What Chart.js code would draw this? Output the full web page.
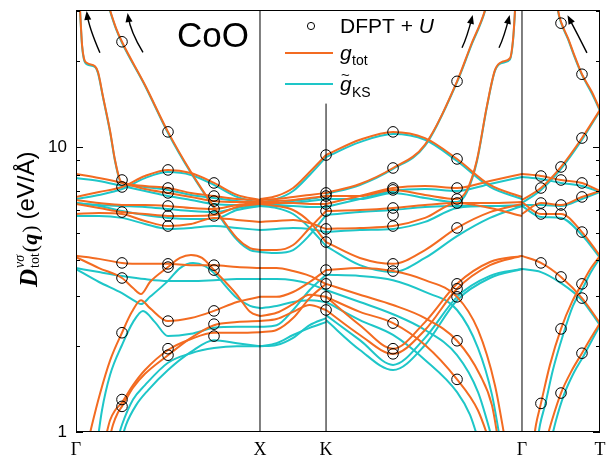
<!DOCTYPE html>
<html>
<head>
<meta charset="utf-8">
<script src="https://cdn.jsdelivr.net/npm/chart.js@4.4.1/dist/chart.umd.min.js"></script>
<style>
  html, body { margin: 0; padding: 0; background: #fff; }
  #wrap { width: 615px; height: 460px; position: relative; }
</style>
</head>
<body>
<div id="wrap"><canvas id="chart"></canvas></div>
<script>
// CoO: D_tot(q) along Γ–X–K–Γ–T, DFPT+U points vs. g_tot and g~_KS curves

const ORANGE = '#F36B21';
const CYAN = '#1EC6C8';

const tickQ = [0, 1, 1.359, 2.424, 2.848];
const tickNames = ['Γ', 'X', 'K', 'Γ', 'T'];
const yTicks = [1, 2, 3, 4, 5, 6, 7, 8, 9, 10, 20, 30];

// ---- Γ–X ----
const qGX = [0, 0.125, 0.25, 0.375, 0.5, 0.625, 0.75, 0.875, 1];
const gxTot = [
  [6.68, 6.95, 7.24, 7.91, 8.31, 8.10, 7.48, 6.79, 6.52],
  [8.04, 7.78, 7.48, 7.12, 6.90, 6.68, 6.46, 6.41, 6.41],
  [6.52, 6.36, 6.26, 6.26, 6.21, 6.11, 6.06, 6.26, 6.36],
  [6.31, 6.11, 5.91, 5.82, 5.73, 5.73, 5.77, 6.16, 6.31],
  [5.82, 5.87, 5.82, 5.50, 5.28, 5.37, 5.64, 5.55, 5.46],
  [4.15, 4.05, 3.92, 3.89, 3.89, 3.85, 3.85, 3.79, 3.76]
];
const gxKS = [
  [6.57, 6.79, 7.12, 7.78, 8.17, 7.98, 7.36, 6.68, 6.36],
  [7.78, 7.60, 7.30, 7.01, 6.73, 6.52, 6.31, 6.26, 6.26],
  [6.36, 6.26, 6.21, 6.16, 6.06, 5.96, 5.91, 6.11, 6.21],
  [6.36, 6.21, 5.96, 5.77, 5.64, 5.59, 5.59, 6.01, 6.21],
  [5.73, 5.73, 5.64, 5.37, 5.16, 5.20, 5.28, 5.20, 5.11],
  [3.76, 3.64, 3.53, 3.44, 3.39, 3.39, 3.41, 3.44, 3.44]
];
const gxTotCurves = [
  [[0.016, 35.6], [0.022, 30.2], [0.033, 22.8], [0.043, 20.5], [0.060, 19.7], [0.103, 19.2], [0.120, 18.3], [0.147, 15.0], [0.185, 11.4], [0.212, 9.00], [0.239, 7.66], [0.25, 7.54], [0.375, 7.30], [0.5, 7.18], [0.625, 6.90], [0.75, 6.73], [0.875, 6.57], [1, 6.52]],
  [[0.152, 35.6], [0.185, 30.2], [0.217, 26.2], [0.25, 23.4], [0.375, 16.5], [0.5, 11.3], [0.625, 8.17], [0.75, 6.16], [0.875, 4.79], [0.946, 4.42], [1, 4.35]],
  [[0, 4.11], [0.125, 3.76], [0.25, 3.47], [0.31, 3.20], [0.353, 3.05], [0.402, 3.36], [0.5, 3.79], [0.565, 4.08], [0.625, 4.18], [0.685, 4.08], [0.75, 3.70], [0.875, 3.03], [0.946, 2.64], [1, 2.55]],
  [[0.065, 0.92], [0.087, 1.06], [0.130, 1.36], [0.185, 1.78], [0.25, 2.23], [0.304, 2.64], [0.353, 2.90], [0.402, 2.72], [0.5, 2.45], [0.625, 2.51], [0.75, 2.66], [0.875, 2.86], [1, 2.98]],
  [[0.158, 0.94], [0.185, 1.10], [0.212, 1.19], [0.25, 1.27], [0.31, 1.46], [0.375, 1.65], [0.5, 1.94], [0.625, 2.12], [0.75, 2.23], [0.875, 2.23], [1, 2.24]],
  [[0.174, 0.90], [0.201, 1.06], [0.228, 1.17], [0.25, 1.23], [0.31, 1.43], [0.375, 1.60], [0.5, 1.86], [0.625, 2.14], [0.75, 2.37], [0.875, 2.43], [1, 2.45]]
];
const gxKSCurves = [
  [[0.016, 35.6], [0.022, 30.0], [0.033, 22.6], [0.043, 20.3], [0.060, 19.5], [0.103, 19.1], [0.120, 18.1], [0.147, 14.9], [0.185, 11.3], [0.212, 8.93], [0.239, 7.60], [0.25, 7.48], [0.375, 7.24], [0.5, 7.07], [0.625, 6.79], [0.75, 6.62], [0.875, 6.46], [1, 6.31]],
  [[0.152, 35.6], [0.185, 30.0], [0.217, 26.0], [0.25, 23.2], [0.375, 16.4], [0.5, 11.2], [0.625, 8.10], [0.75, 6.11], [0.875, 4.72], [0.946, 4.35], [1, 4.28]],
  [[0, 3.73], [0.125, 3.36], [0.25, 3.07], [0.321, 2.88], [0.353, 2.81], [0.402, 2.98], [0.5, 3.39], [0.565, 3.76], [0.636, 3.92], [0.701, 3.82], [0.75, 3.61], [0.875, 2.95], [0.946, 2.77], [1, 2.72]],
  [[0.114, 0.90], [0.141, 1.19], [0.185, 1.585], [0.25, 2.02], [0.31, 2.43], [0.364, 2.66], [0.429, 2.43], [0.5, 2.17], [0.625, 2.21], [0.75, 2.32], [0.875, 2.34], [1, 2.34]],
  [[0.217, 0.90], [0.25, 1.06], [0.31, 1.30], [0.375, 1.46], [0.5, 1.75], [0.625, 1.89], [0.75, 1.97], [0.875, 2.00], [1, 2.00]],
  [[0.239, 0.90], [0.272, 1.06], [0.326, 1.24], [0.391, 1.40], [0.5, 1.65], [0.625, 1.91], [0.75, 2.10], [0.875, 2.05], [1, 2.00]]
];

// ---- X–K ----
const qXK = [1, 1.09, 1.18, 1.27, 1.359];
const xkTot = [
  [6.57, 6.73, 7.18, 8.17, 9.37],
  [6.52, 6.57, 6.68, 6.79, 6.90],
  [6.41, 6.46, 6.52, 6.62, 6.73],
  [6.36, 6.36, 6.36, 6.31, 6.31],
  [4.35, 4.35, 4.53, 5.20, 5.96],
  [5.46, 5.50, 5.55, 5.41, 5.16],
  [6.31, 6.21, 6.01, 5.46, 4.64],
  [3.76, 3.76, 3.67, 3.53, 3.31],
  [2.98, 2.98, 3.10, 3.36, 3.70],
  [2.55, 2.62, 2.81, 3.03, 2.98],
  [2.45, 2.49, 2.64, 2.79, 2.68],
  [2.24, 2.28, 2.51, 2.95, 3.31]
];
const xkKS = [
  [6.36, 6.57, 7.01, 7.98, 9.22],
  [6.26, 6.36, 6.46, 6.57, 6.73],
  [6.26, 6.31, 6.36, 6.46, 6.57],
  [6.21, 6.21, 6.21, 6.16, 6.16],
  [4.28, 4.25, 4.35, 4.91, 5.77],
  [5.11, 5.16, 5.20, 5.16, 5.03],
  [6.21, 6.11, 5.82, 5.20, 4.49],
  [3.44, 3.44, 3.41, 3.31, 3.15],
  [2.34, 2.37, 2.68, 3.15, 3.56],
  [2.72, 2.77, 2.86, 2.90, 2.86],
  [2.00, 2.02, 2.14, 2.37, 2.51],
  [2.00, 2.05, 2.19, 2.32, 2.43]
];

// ---- K–Γ ----
const qKG = [1.359, 1.543, 1.723, 1.897, 2.071, 2.25, 2.424];
const kgTot = [
  [9.37, 10.6, 11.3, 10.75, 9.08, 7.36, 6.68],
  [6.31, 6.73, 7.18, 7.30, 7.18, 7.60, 8.04],
  [5.16, 5.20, 5.28, 5.64, 6.36, 6.11, 5.73],
  [5.96, 6.01, 6.11, 6.26, 6.36, 6.36, 6.41],
  [4.64, 4.08, 3.89, 4.35, 5.20, 5.91, 6.31],
  [2.68, 2.19, 1.88, 2.28, 3.18, 3.85, 4.15],
  [2.98, 2.37, 1.96, 2.43, 3.31, 3.95, 4.15]
];
const kgKS = [
  [9.22, 10.4, 11.1, 10.6, 8.93, 7.24, 6.57],
  [6.16, 6.57, 7.01, 7.12, 7.01, 7.42, 7.85],
  [5.03, 5.11, 5.16, 5.46, 6.11, 6.21, 6.21],
  [5.77, 5.91, 6.01, 6.16, 6.21, 6.21, 6.26],
  [4.49, 3.85, 3.64, 4.08, 4.87, 5.64, 6.21],
  [2.47, 1.94, 1.65, 2.02, 2.90, 3.47, 3.73],
  [2.57, 2.10, 1.72, 2.14, 2.98, 3.53, 3.73]
];
const kgTotCurves = [
  [[1.359, 6.90], [1.543, 7.42], [1.723, 8.44], [1.897, 10.2], [2.071, 17.0], [2.147, 22.8], [2.223, 30.2], [2.25, 35.6]],
  [[1.359, 6.73], [1.543, 6.73], [1.723, 7.07], [1.897, 6.79], [2.071, 6.57], [2.125, 7.07], [2.179, 9.00], [2.234, 14.0], [2.277, 18.6], [2.315, 19.9], [2.359, 20.5], [2.375, 23.7], [2.386, 30.2], [2.391, 35.6]],
  [[1.359, 2.98], [1.543, 2.64], [1.723, 2.41], [1.897, 2.02], [2.071, 1.53], [2.185, 1.19], [2.255, 0.90]],
  [[1.359, 3.31], [1.543, 3.03], [1.723, 2.79], [1.897, 2.51], [2.071, 2.09], [2.196, 1.585], [2.261, 1.24], [2.299, 0.90]],
  [[1.359, 3.70], [1.543, 3.76], [1.723, 3.67], [1.897, 3.41], [2.071, 2.98], [2.185, 2.28], [2.277, 1.46], [2.337, 0.90]]
];
const kgKSCurves = [
  [[1.359, 6.84], [1.543, 7.36], [1.723, 8.38], [1.897, 10.1], [2.071, 16.9], [2.147, 22.6], [2.223, 30.0], [2.25, 35.6]],
  [[1.359, 6.57], [1.543, 6.57], [1.723, 6.90], [1.897, 6.62], [2.071, 6.41], [2.125, 6.95], [2.179, 8.90], [2.234, 13.9], [2.277, 18.5], [2.315, 19.7], [2.359, 20.3], [2.375, 23.5], [2.386, 30.0], [2.391, 35.6]],
  [[1.359, 2.86], [1.543, 2.47], [1.723, 2.19], [1.897, 1.79], [2.071, 1.38], [2.141, 1.15], [2.196, 0.90]],
  [[1.359, 3.15], [1.543, 2.86], [1.723, 2.59], [1.897, 2.28], [2.071, 1.86], [2.185, 1.38], [2.272, 0.90]],
  [[1.359, 3.56], [1.543, 3.53], [1.723, 3.41], [1.897, 3.10], [2.071, 2.68], [2.185, 1.97], [2.261, 1.35], [2.310, 0.90]]
];

// ---- Γ–T ----
const qGT = [2.424, 2.527, 2.636, 2.75, 2.848];
const gtTot = [
  [6.52, 7.18, 8.51, 10.75, 13.5],
  [8.04, 7.91, 7.66, 7.48, 7.01],
  [5.82, 6.36, 6.26, 6.68, 7.01],
  [6.41, 5.82, 5.82, 5.03, 4.15],
  [4.15, 3.92, 3.50, 2.95, 2.41]
];
const gtKS = [
  [6.36, 7.07, 8.38, 10.6, 13.4],
  [7.85, 7.72, 7.48, 7.30, 6.95],
  [6.26, 6.26, 6.21, 6.57, 6.95],
  [6.21, 5.68, 5.64, 4.91, 4.08],
  [3.73, 3.64, 3.33, 2.90, 2.37]
];
const gtTotCurves = [
  [[2.609, 35.6], [2.62, 30.2], [2.641, 27.0], [2.674, 24.1], [2.712, 20.7], [2.75, 18.0], [2.804, 15.6], [2.848, 13.5]],
  [[2.484, 0.90], [2.5, 1.06], [2.527, 1.26], [2.576, 1.72], [2.636, 2.30], [2.696, 2.86], [2.75, 3.31], [2.799, 3.76], [2.848, 4.15]],
  [[2.549, 0.90], [2.587, 1.10], [2.636, 1.37], [2.696, 1.65], [2.75, 1.89], [2.799, 2.14], [2.848, 2.41]]
];
const gtKSCurves = [
  [[2.609, 35.6], [2.62, 30.0], [2.641, 26.8], [2.674, 23.9], [2.712, 20.5], [2.75, 17.9], [2.804, 15.4], [2.848, 13.4]],
  [[2.505, 0.90], [2.522, 1.06], [2.549, 1.24], [2.592, 1.65], [2.647, 2.19], [2.701, 2.77], [2.755, 3.20], [2.799, 3.64], [2.848, 4.08]],
  [[2.576, 0.90], [2.609, 1.10], [2.652, 1.35], [2.707, 1.62], [2.761, 1.86], [2.804, 2.10], [2.848, 2.37]]
];

// ---- DFPT + U points ----
const dfptQ = [0.25, 0.5, 0.75, 1.359, 1.723, 2.071, 2.527, 2.636, 2.75];
const dfptD = [
  [23.4, 7.66, 7.24, 5.91, 3.92, 3.47, 2.23, 1.30, 1.23],
  [11.3, 8.31, 7.18, 6.90, 6.21, 5.73, 5.28, 3.89, 3.79, 2.45, 1.96, 1.86],
  [7.48, 6.73, 6.46, 6.06, 5.73, 3.85, 3.70, 2.66, 2.39, 2.17],
  [9.37, 6.90, 6.73, 6.31, 5.96, 5.16, 4.64, 3.70, 3.31, 2.98, 2.68],
  [11.3, 8.44, 7.18, 7.07, 6.11, 5.77, 5.28, 3.89, 3.67, 2.41, 1.96, 1.88],
  [17.0, 9.08, 7.18, 6.57, 6.36, 5.20, 3.31, 3.18, 2.98, 2.09, 1.53],
  [7.91, 7.18, 6.36, 5.82, 3.92, 1.26],
  [27.2, 8.51, 7.66, 6.26, 5.82, 3.50, 2.30, 1.37],
  [18.0, 10.75, 7.48, 6.68, 5.03, 3.31, 2.95, 1.89]
];

// curved arrows near the diverging branches (tail, middle, head)
const arrowMarks = [
  [[0.130, 21.4], [0.082, 25.7], [0.060, 29.3]],
  [[0.364, 21.5], [0.310, 25.1], [0.283, 28.8]],
  [[2.098, 22.3], [2.125, 24.7], [2.152, 28.4]],
  [[2.299, 22.3], [2.326, 24.7], [2.353, 28.4]],
  [[2.777, 21.4], [2.728, 24.7], [2.679, 28.4]]
];

const onGrid = (qs, rows) => rows.map(r => r.map((d, i) => ({ x: qs[i], y: d })));
const onPts = rows => rows.map(r => r.map(p => ({ x: p[0], y: p[1] })));

const totLines = [
  ...onGrid(qGX, gxTot), ...onPts(gxTotCurves),
  ...onGrid(qXK, xkTot),
  ...onGrid(qKG, kgTot), ...onPts(kgTotCurves),
  ...onGrid(qGT, gtTot), ...onPts(gtTotCurves)
];
const ksLines = [
  ...onGrid(qGX, gxKS), ...onPts(gxKSCurves),
  ...onGrid(qXK, xkKS),
  ...onGrid(qKG, kgKS), ...onPts(kgKSCurves),
  ...onGrid(qGT, gtKS), ...onPts(gtKSCurves)
];

const datasets = [];
ksLines.forEach(d => datasets.push({
  data: d, borderColor: CYAN, borderWidth: 2, pointRadius: 0,
  cubicInterpolationMode: 'monotone', order: 3
}));
totLines.forEach(d => datasets.push({
  data: d, borderColor: ORANGE, borderWidth: 2, pointRadius: 0,
  cubicInterpolationMode: 'monotone', order: 2
}));
// vertical lines at X, K, Γ (K line stops under the legend)
[[1, 30.25], [1.359, 14.2], [2.424, 30.25]].forEach(([q, top]) => datasets.push({
  data: [{ x: q, y: 1 }, { x: q, y: top }],
  borderColor: '#000', borderWidth: 1, pointRadius: 0, order: 1
}));
const dfptPts = [];
dfptQ.forEach((q, i) => dfptD[i].forEach(d => dfptPts.push({ x: q, y: d })));
datasets.push({
  data: dfptPts, showLine: false, pointRadius: 5.3, pointBorderWidth: 1,
  pointBorderColor: '#000', pointBackgroundColor: 'rgba(0,0,0,0)', order: 0
});

function drawYTitle(ctx) {
  ctx.save();
  ctx.translate(37, 287);
  ctx.rotate(-Math.PI / 2);
  ctx.fillStyle = '#000';
  let u = 0;
  ctx.font = 'italic bold 25px "Liberation Serif"';
  ctx.fillText('D', u, 0);
  u += ctx.measureText('D').width + 1;
  ctx.font = 'italic 14px "Liberation Serif"';
  ctx.fillText('νσ', u, -13);
  ctx.font = '14px "Liberation Serif"';
  ctx.fillText('tot', u, 2);
  u += ctx.measureText('tot').width + 1;
  ctx.font = '22px "Liberation Serif"';
  ctx.fillText('(', u, 0);
  u += ctx.measureText('(').width;
  ctx.font = 'italic bold 22px "Liberation Serif"';
  ctx.fillText('q', u, 0);
  u += ctx.measureText('q').width + 1;
  ctx.font = '22px "Liberation Serif"';
  ctx.fillText(')', u, 0);
  u += ctx.measureText(')').width + 6;
  ctx.font = '24px "Liberation Sans"';
  ctx.fillText('(eV/Å)', u, -3);
  ctx.restore();
}

function drawLegend(ctx) {
  ctx.save();
  ctx.fillStyle = '#000';
  ctx.strokeStyle = '#000';
  ctx.lineWidth = 1;
  ctx.beginPath();
  ctx.arc(311, 26, 3.6, 0, Math.PI * 2);
  ctx.stroke();
  ctx.font = '21px "Liberation Sans"';
  ctx.fillText('DFPT + ', 340, 33);
  const w = ctx.measureText('DFPT + ').width;
  ctx.font = 'italic 21px "Liberation Sans"';
  ctx.fillText('U', 340 + w, 33);

  ctx.lineWidth = 2;
  ctx.strokeStyle = ORANGE;
  ctx.beginPath(); ctx.moveTo(285, 53); ctx.lineTo(333, 53); ctx.stroke();
  ctx.strokeStyle = CYAN;
  ctx.beginPath(); ctx.moveTo(285, 84); ctx.lineTo(333, 84); ctx.stroke();

  ctx.font = 'italic 21px "Liberation Sans"';
  ctx.fillText('g', 340, 60);
  ctx.fillText('g', 340, 91);
  ctx.font = '14px "Liberation Sans"';
  ctx.fillText('tot', 352, 65);
  ctx.fillText('KS', 352, 97);
  ctx.font = '15px "Liberation Sans"';
  ctx.fillText('~', 341, 80);

  ctx.font = '35px "Liberation Sans"';
  ctx.fillText('CoO', 177, 47);
  ctx.restore();
}

const decor = {
  id: 'decor',
  afterDatasetsDraw(chart) {
    const { ctx, chartArea: a, scales: { x, y } } = chart;
    ctx.save();
    ctx.strokeStyle = '#000';
    ctx.lineWidth = 1;
    ctx.strokeRect(a.left + 0.5, a.top + 0.5, a.right - a.left - 1, a.bottom - a.top - 1);
    yTicks.forEach(v => {
      const py = Math.round(y.getPixelForValue(v)) + 0.5;
      const len = (v === 1 || v === 10) ? 7 : 4;
      ctx.beginPath();
      ctx.moveTo(a.left, py); ctx.lineTo(a.left + len, py);
      ctx.moveTo(a.right, py); ctx.lineTo(a.right - len, py);
      ctx.stroke();
    });
    ctx.fillStyle = '#000';
    ctx.lineWidth = 1.4;
    arrowMarks.forEach(m => {
      const p = m.map(([q, d]) => [x.getPixelForValue(q), y.getPixelForValue(d)]);
      const c = [2 * p[1][0] - (p[0][0] + p[2][0]) / 2, 2 * p[1][1] - (p[0][1] + p[2][1]) / 2];
      ctx.beginPath();
      ctx.moveTo(p[0][0], p[0][1]);
      ctx.quadraticCurveTo(c[0], c[1], p[2][0], p[2][1]);
      ctx.stroke();
      const ang = Math.atan2(p[2][1] - c[1], p[2][0] - c[0]);
      const L = 9, W = 3.5;
      const hx = p[2][0] + Math.cos(ang) * 3, hy = p[2][1] + Math.sin(ang) * 3;
      ctx.beginPath();
      ctx.moveTo(hx, hy);
      ctx.lineTo(hx - L * Math.cos(ang) + W * Math.sin(ang), hy - L * Math.sin(ang) - W * Math.cos(ang));
      ctx.lineTo(hx - L * Math.cos(ang) - W * Math.sin(ang), hy - L * Math.sin(ang) + W * Math.cos(ang));
      ctx.closePath();
      ctx.fill();
    });
    ctx.restore();
  },
  afterDraw(chart) {
    drawYTitle(chart.ctx);
    drawLegend(chart.ctx);
  }
};

new Chart(document.getElementById('chart'), {
  type: 'line',
  data: { datasets },
  plugins: [decor],
  options: {
    responsive: true,
    maintainAspectRatio: false,
    animation: false,
    devicePixelRatio: 1,
    layout: { padding: { top: 10, right: 15, left: 0, bottom: 0 } },
    plugins: { legend: { display: false }, tooltip: { enabled: false } },
    scales: {
      x: {
        type: 'linear', min: 0, max: 2.848,
        afterBuildTicks: s => { s.ticks = tickQ.map(v => ({ value: v })); },
        afterFit: s => { s.height = 28; s.paddingLeft = 0; s.paddingRight = 0; },
        grid: { display: false, drawTicks: false },
        border: { display: false },
        ticks: {
          autoSkip: false, maxRotation: 0, padding: 7, color: '#000',
          font: { family: 'Liberation Serif', size: 18 },
          callback: (v, i) => tickNames[i]
        }
      },
      y: {
        type: 'logarithmic', min: 1, max: 30.25,
        afterBuildTicks: s => { s.ticks = yTicks.map(v => ({ value: v })); },
        afterFit: s => { s.width = 76; s.paddingTop = 0; s.paddingBottom = 0; },
        grid: { display: false, drawTicks: false },
        border: { display: false },
        ticks: {
          autoSkip: false, padding: 9, color: '#000',
          font: { family: 'Liberation Sans', size: 17 },
          callback: v => (v === 1 || v === 10) ? String(v) : ''
        }
      }
    }
  }
});
</script>
</body>
</html>
